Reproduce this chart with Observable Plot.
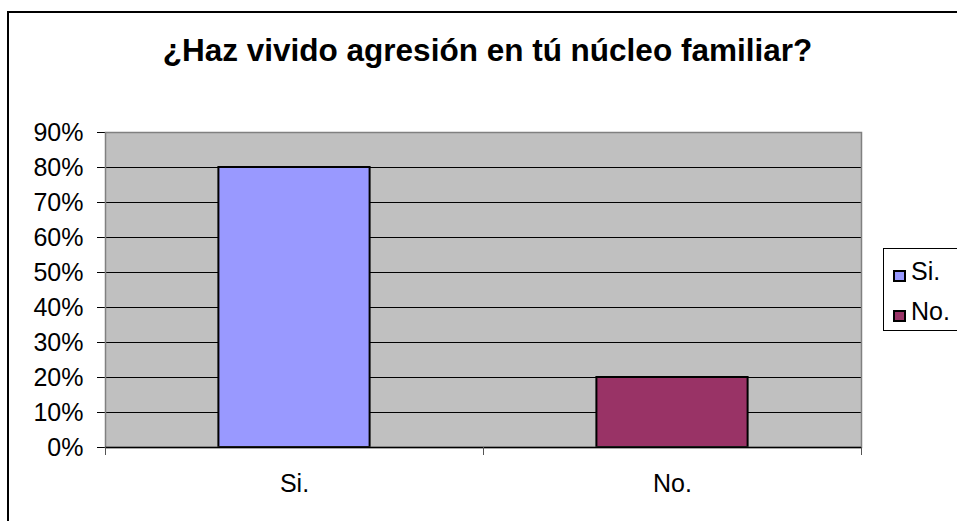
<!DOCTYPE html>
<html>
<head>
<meta charset="utf-8">
<script src="https://cdn.jsdelivr.net/npm/d3@7"></script>
<script src="https://cdn.jsdelivr.net/npm/@observablehq/plot@0.6"></script>
<style>
  body { margin: 0; background: #fff; font-family: "Liberation Sans", Arial, sans-serif; }
  #wrap { position: relative; width: 957px; height: 521px; overflow: hidden; background: #fff; }
  #frame { position: absolute; left: 7px; top: 11px; width: 1000px; height: 600px; border: 2px solid #000; box-sizing: border-box; }
  #chart { position: absolute; left: 0; top: 0; }
  #title { position: absolute; left: 0; width: 975px; top: 35px; text-align: center; font-weight: bold; font-size: 31.5px; line-height: 1; color: #000; white-space: nowrap; }
  #legend { position: absolute; left: 883px; top: 248px; width: 100px; height: 83px; border: 1px solid #000; box-sizing: border-box; background: #fff; }
  .item { position: absolute; left: 0; font-size: 25px; line-height: 1; white-space: nowrap; }
  .sw { position: absolute; left: 9px; width: 13px; height: 12px; border: 2px solid #000; box-sizing: border-box; }
  .lab { position: absolute; left: 27px; }
</style>
</head>
<body>
<div id="wrap">
  <div id="frame"></div>
  <div id="chart"></div>
  <div id="title"></div>
  <div id="legend"></div>
</div>
<script>
// ---- data ----
const titleText = "¿Haz vivido agresión en tú núcleo familiar?";
const categories = ["Si.", "No."];
const values = [0.80, 0.20];
const colors = ["#9999FF", "#993366"];
const yTicks = [0, 0.1, 0.2, 0.3, 0.4, 0.5, 0.6, 0.7, 0.8, 0.9];

const data = categories.map((c, i) => ({category: c, value: values[i], color: colors[i]}));

const W = 957, H = 521;
const mL = 105, mR = 96, mT = 132, mB = 74;
const bw = (W - mL - mR) / categories.length;   // band width
const inset = bw * 0.3;

const chart = Plot.plot({
  width: W,
  height: H,
  marginLeft: mL,
  marginRight: mR,
  marginTop: mT,
  marginBottom: mB,
  style: {background: "none", fontSize: "25px", fontFamily: "'Liberation Sans', Arial, sans-serif", color: "#000", overflow: "visible"},
  x: {type: "band", domain: categories, padding: 0, tickSize: 0, tickPadding: 27, label: null},
  y: {domain: [0, 0.9], ticks: yTicks, tickFormat: d3.format(".0%"), tickSize: 8, tickPadding: 14, label: null},
  color: {type: "identity"},
  marks: [
    Plot.frame({fill: "#C0C0C0", stroke: null}),
    Plot.ruleY(yTicks, {stroke: "#000", strokeWidth: 1}),
    Plot.barY(data, {x: "category", y: "value", fill: "color", stroke: "#000", strokeWidth: 2, insetLeft: inset, insetRight: inset}),
    Plot.frame({stroke: "#808080", strokeWidth: 1.5}),
    Plot.ruleY([0], {stroke: "#000", strokeWidth: 1.5}),
    Plot.ruleX(categories, {x: d => d, y1: 0, y2: 0, insetBottom: -8, dx: -bw / 2, stroke: "#555"}),
    Plot.ruleX(categories.slice(-1), {x: d => d, y1: 0, y2: 0, insetBottom: -8, dx: bw / 2, stroke: "#555"})
  ]
});
document.getElementById("chart").appendChild(chart);

document.getElementById("title").textContent = titleText;

const legend = document.getElementById("legend");
data.forEach((d, i) => {
  const top = 17 + i * 40;
  const sw = document.createElement("div");
  sw.className = "sw";
  sw.style.top = (top + 4) + "px";
  sw.style.background = d.color;
  legend.appendChild(sw);
  const lab = document.createElement("div");
  lab.className = "item lab";
  lab.style.top = (top - 7) + "px";
  lab.textContent = d.category;
  legend.appendChild(lab);
});
</script>
</body>
</html>
